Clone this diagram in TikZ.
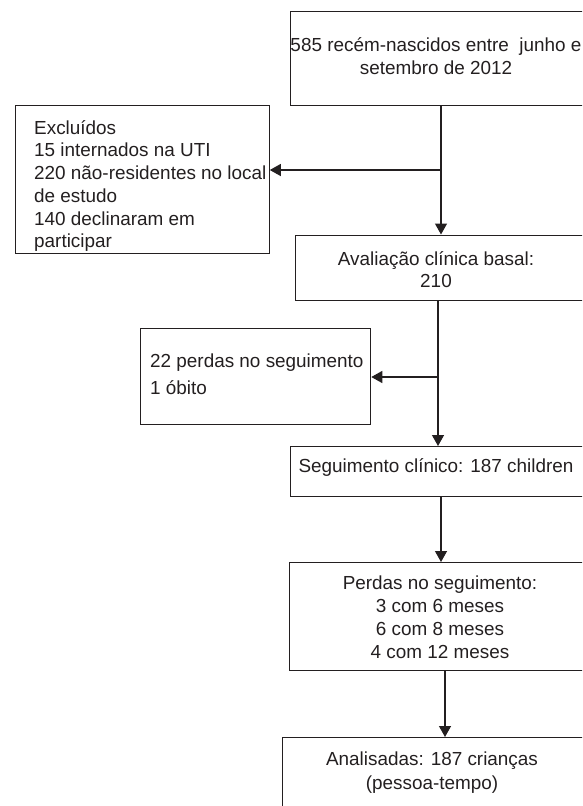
\documentclass[tikz,border=0pt]{standalone}
\usepackage{fontspec}
\setmainfont{Liberation Sans}
\usetikzlibrary{arrows.meta}
\definecolor{ink}{RGB}{35,31,32}
\begin{document}
\begin{tikzpicture}[x=1pt,y=1pt,
  box/.style={draw=ink,line width=1.3pt,inner sep=0pt,anchor=north west},
  lbl/.style={text=ink,font=\fontsize{18.9}{22.7}\selectfont,inner sep=0pt,align=center},
  conn/.style={draw=ink,line width=1.3pt},
  arr/.style={draw=ink,line width=1.3pt,-{Triangle[length=11pt,width=12pt]}}]
\useasboundingbox (0,0) rectangle (582,-806);
\clip (0,0) rectangle (582,-806);
% boxes
\node[box,minimum width=360pt,minimum height=93.5pt] (b1) at (290,-11) {};
\node[box,minimum width=254pt,minimum height=148pt] (bx) at (14.5,-104.5) {};
\node[box,minimum width=355pt,minimum height=65pt] (b2) at (295,-234.5) {};
\node[box,minimum width=230pt,minimum height=96pt] (bp) at (140,-328) {};
\node[box,minimum width=360pt,minimum height=50pt] (b3) at (290,-446) {};
\node[box,minimum width=361pt,minimum height=108pt] (b4) at (289,-562) {};
\node[box,minimum width=368pt,minimum height=113pt] (b5) at (282,-737) {};
% texts
\node[lbl] (t1) at (436,-56) {585 recém-nascidos entre\ \ junho e\\setembro de 2012};
\node[lbl,align=left,anchor=west] (tx) at (34,-186) {Excluídos\\15 internados na UTI\\220 não-residentes no local\\de estudo\\140 declinaram em\\participar};
\node[lbl] (t2) at (436,-269.5) {Avaliação clínica basal:\\210};
\node[lbl,align=left,anchor=west,font=\fontsize{18.9}{27}\selectfont] (tp) at (150,-374.5) {22 perdas no seguimento\\1 óbito};
\node[lbl] (t3) at (436,-467) {Seguimento clínico: 187 children};
\node[lbl,font=\fontsize{18.9}{23}\selectfont] (t4) at (440,-617.5) {Perdas no seguimento:\\3 com 6 meses\\6 com 8 meses\\4 com 12 meses};
\node[lbl,font=\fontsize{18.9}{24}\selectfont] (t5) at (432,-773) {Analisadas: 187 crianças\\(pessoa-tempo)};
% connectors
\coordinate (v1) at (441,-170);
\draw[conn] (b1.south -| v1) -- (v1);
\draw[arr] (v1) -- (b2.north -| v1);
\draw[arr] (v1) -- (bx.east |- v1);
\coordinate (v2) at (438,-377);
\draw[conn] (b2.south -| v2) -- (v2);
\draw[arr] (v2) -- (b3.north -| v2);
\draw[arr] (v2) -- (bp.east |- v2);
\coordinate (v3) at (441,0);
\draw[arr] (b3.south -| v3) -- (b4.north -| v3);
\coordinate (v4) at (445,0);
\draw[arr] (b4.south -| v4) -- (b5.north -| v4);
\end{tikzpicture}
\end{document}
